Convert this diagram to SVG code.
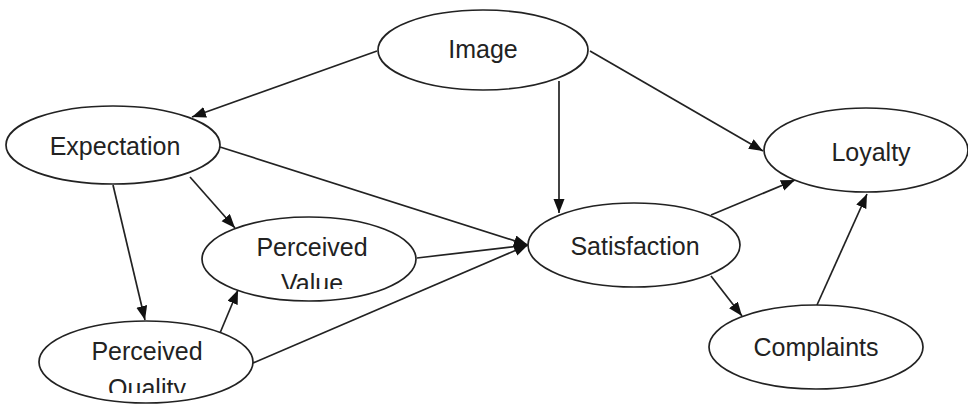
<svg xmlns="http://www.w3.org/2000/svg" width="968" height="406" viewBox="0 0 968 406">
<style>
.n ellipse{fill:#fff;stroke:#222;stroke-width:1.7}
.n text{font-family:"Liberation Sans",Arial,sans-serif;font-size:25px;fill:#222;text-anchor:middle}
#edges line{stroke:#222;stroke-width:1.7;marker-end:url(#ah)}
</style>
<defs>
<marker id="ah" markerUnits="userSpaceOnUse" markerWidth="15" markerHeight="12" refX="14" refY="5.5" orient="auto"><path d="M0,0 L14,5.5 L0,11 z" fill="#111"/></marker>
<clipPath id="cv"><rect x="200" y="200" width="220" height="89"/></clipPath>
<clipPath id="cq"><rect x="30" y="300" width="230" height="93"/></clipPath>
</defs>
<rect width="968" height="406" fill="#fff"/>
<g id="edges">
<line x1="377" y1="51" x2="192" y2="117"/>
<line x1="559" y1="81" x2="559" y2="213"/>
<line x1="590" y1="51" x2="763" y2="151"/>
<line x1="220" y1="147" x2="528" y2="245"/>
<line x1="113" y1="185" x2="145" y2="320"/>
<line x1="190" y1="177" x2="235" y2="228"/>
<line x1="220" y1="333" x2="238" y2="290"/>
<line x1="417" y1="258" x2="528" y2="245"/>
<line x1="253" y1="363" x2="528" y2="245"/>
<line x1="711" y1="215" x2="795" y2="180"/>
<line x1="711" y1="276" x2="742" y2="316"/>
<line x1="817" y1="305" x2="867" y2="194"/>
</g>
<g id="image" class="n"><ellipse cx="483" cy="50" rx="105" ry="40"/><text x="483" y="58">Image</text></g>
<g id="expectation" class="n"><ellipse cx="113" cy="145" rx="107" ry="39"/><text x="115" y="155">Expectation</text></g>
<g id="loyalty" class="n"><ellipse cx="866" cy="150" rx="102" ry="42"/><text x="871" y="161">Loyalty</text></g>
<g id="perceived-value" class="n"><ellipse cx="309" cy="259" rx="107" ry="42"/><text x="312" y="256">Perceived</text><text x="312" y="292" clip-path="url(#cv)">Value</text></g>
<g id="satisfaction" class="n"><ellipse cx="634" cy="245" rx="106" ry="42"/><text x="635" y="255">Satisfaction</text></g>
<g id="perceived-quality" class="n"><ellipse cx="146" cy="362" rx="107" ry="41"/><text x="147" y="360">Perceived</text><text x="147" y="397" clip-path="url(#cq)">Quality</text></g>
<g id="complaints" class="n"><ellipse cx="816" cy="347" rx="107" ry="42"/><text x="816" y="356">Complaints</text></g>
</svg>
